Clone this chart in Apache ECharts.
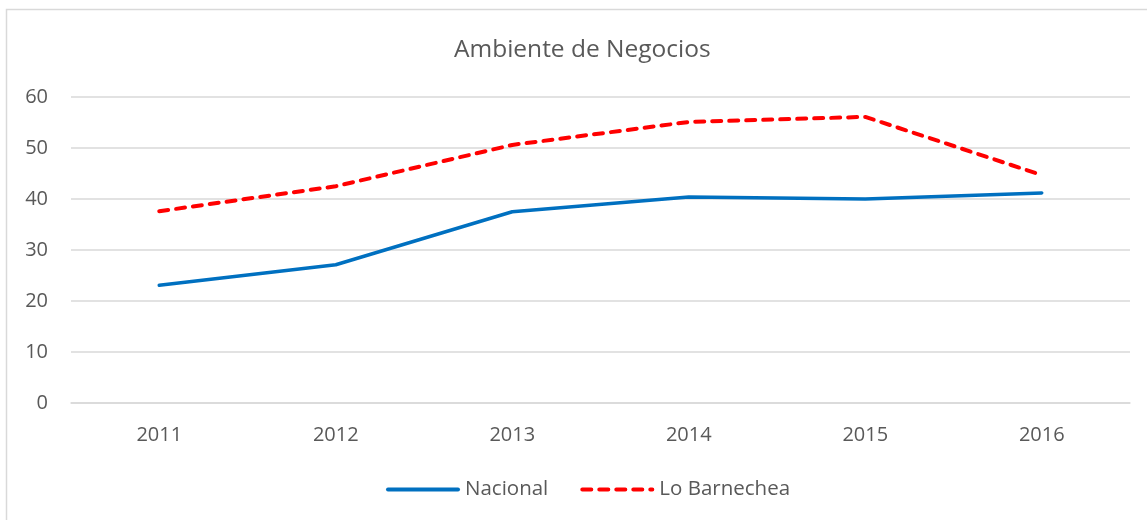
<!DOCTYPE html>
<html>
<head>
<meta charset="utf-8">
<script src="https://cdn.jsdelivr.net/npm/echarts@6/dist/echarts.min.js"></script>
<style>
  html, body { margin: 0; padding: 0; background: #ffffff; }
  #chart { width: 1147px; height: 520px; }
</style>
</head>
<body>
<div id="chart"></div>
<script>
// Survey years on the category axis
const years = ['2011', '2012', '2013', '2014', '2015', '2016'];
// Business-environment index per year
const nacional = [23.1, 27.1, 37.5, 40.4, 40.0, 41.2];
const loBarnechea = [37.6, 42.5, 50.6, 55.1, 56.1, 44.7];

const textColor = '#595959';
const gridColor = '#d9d9d9';
const fontFamily = '"Open Sans", "Noto Sans", sans-serif';

const chart = echarts.init(document.getElementById('chart'), null, { renderer: 'canvas' });

chart.setOption({
  backgroundColor: '#ffffff',
  animation: false,
  title: {
    text: 'Ambiente de Negocios',
    left: 449,
    top: 33,
    textStyle: { color: textColor, fontSize: 24.5, fontWeight: 'normal', fontFamily: fontFamily }
  },
  legend: {
    bottom: 15,
    left: 381,
    itemWidth: 70,
    itemHeight: 14,
    itemGap: 32,
    itemStyle: { opacity: 0 },
    lineStyle: { width: 4, cap: 'round' },
    textStyle: { color: textColor, fontSize: 20.5, fontFamily: fontFamily, padding: [0, 0, 0, 2] },
    data: ['Nacional', 'Lo Barnechea']
  },
  grid: { left: 71, right: 17, top: 97, bottom: 117, containLabel: false },
  xAxis: {
    type: 'category',
    data: years,
    boundaryGap: true,
    axisLine: { show: true, lineStyle: { color: gridColor, width: 1.5 } },
    axisTick: { show: false },
    axisLabel: { color: textColor, fontSize: 20, fontFamily: fontFamily, margin: 22 }
  },
  yAxis: {
    type: 'value',
    min: 0,
    max: 60,
    interval: 10,
    axisLine: { show: false },
    axisTick: { show: false },
    axisLabel: { color: textColor, fontSize: 20, fontFamily: fontFamily, margin: 23 },
    splitLine: { lineStyle: { color: gridColor, width: 1.5 } }
  },
  graphic: [{
    type: 'rect',
    silent: true,
    shape: { x: 6.5, y: 9.5, width: 2000, height: 2000 },
    style: { fill: 'none', stroke: gridColor, lineWidth: 1.5 }
  }],
  series: [
    {
      name: 'Nacional',
      type: 'line',
      data: nacional,
      symbol: 'none',
      color: '#0070C0',
      lineStyle: { color: '#0070C0', width: 3.5, cap: 'round', join: 'round' }
    },
    {
      name: 'Lo Barnechea',
      type: 'line',
      data: loBarnechea,
      symbol: 'none',
      color: '#FF0000',
      lineStyle: { color: '#FF0000', width: 4, type: [9, 8], cap: 'round', join: 'round' }
    }
  ]
});
</script>
</body>
</html>
